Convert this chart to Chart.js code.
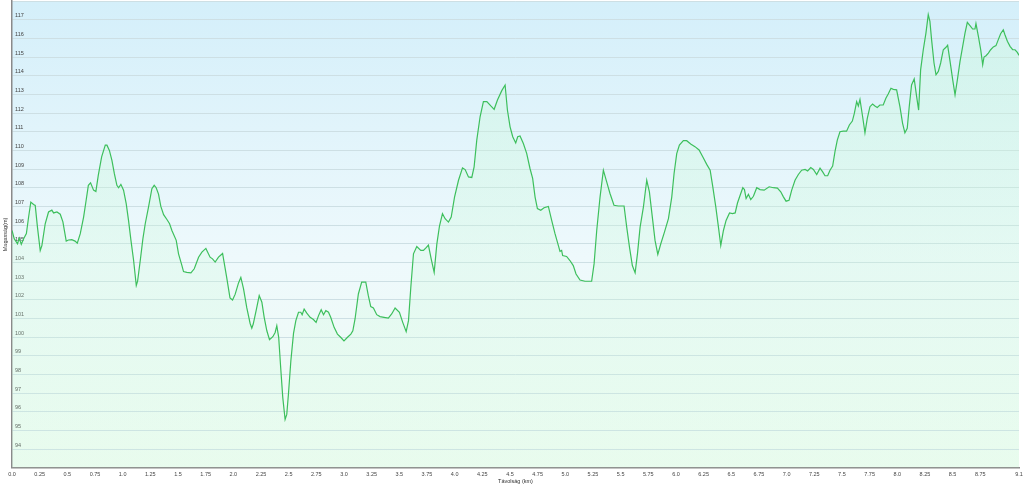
<!DOCTYPE html>
<html>
<head>
<meta charset="utf-8">
<script src="https://cdn.jsdelivr.net/npm/chart.js@4.4.1/dist/chart.umd.min.js"></script>
<style>
html,body{margin:0;padding:0;background:#ffffff;}
canvas{display:block;}
</style>
</head>
<body>
<canvas id="c" width="1023" height="486"></canvas>
<script>
const distKm = [0.00,0.02,0.05,0.065,0.084,0.105,0.13,0.15,0.17,0.195,0.21,0.23,0.255,0.27,0.30,0.33,0.36,0.376,0.406,0.436,0.46,0.49,0.51,0.54,0.57,0.59,0.617,0.647,0.67,0.69,0.71,0.737,0.758,0.78,0.81,0.843,0.858,0.88,0.903,0.925,0.948,0.963,0.984,1.008,1.032,1.053,1.075,1.099,1.123,1.135,1.159,1.183,1.204,1.234,1.264,1.285,1.303,1.324,1.345,1.37,1.40,1.424,1.445,1.484,1.505,1.535,1.55,1.58,1.617,1.647,1.686,1.716,1.752,1.79,1.812,1.836,1.866,1.903,1.94,1.97,1.993,2.017,2.047,2.068,2.092,2.122,2.152,2.167,2.18,2.207,2.234,2.258,2.279,2.303,2.327,2.357,2.378,2.393,2.41,2.428,2.447,2.468,2.483,2.498,2.52,2.544,2.565,2.589,2.61,2.622,2.64,2.664,2.694,2.724,2.748,2.77,2.794,2.815,2.836,2.86,2.88,2.911,2.941,2.97,3.0,3.032,3.062,3.08,3.1,3.13,3.16,3.197,3.22,3.242,3.266,3.296,3.326,3.362,3.401,3.431,3.462,3.501,3.531,3.562,3.583,3.604,3.628,3.658,3.694,3.718,3.745,3.763,3.788,3.815,3.839,3.863,3.89,3.914,3.944,3.969,3.999,4.035,4.071,4.095,4.125,4.155,4.176,4.2,4.23,4.26,4.291,4.327,4.357,4.387,4.426,4.456,4.477,4.501,4.525,4.552,4.57,4.591,4.621,4.651,4.681,4.705,4.727,4.748,4.778,4.808,4.847,4.877,4.907,4.937,4.952,4.967,4.976,5.012,5.042,5.072,5.097,5.133,5.178,5.238,5.26,5.284,5.314,5.344,5.374,5.404,5.44,5.479,5.531,5.555,5.58,5.606,5.631,5.652,5.676,5.706,5.736,5.76,5.79,5.811,5.836,5.863,5.896,5.932,5.962,5.983,6.007,6.031,6.067,6.097,6.133,6.172,6.209,6.242,6.278,6.309,6.333,6.36,6.384,6.405,6.429,6.453,6.484,6.511,6.535,6.556,6.58,6.604,6.619,6.634,6.655,6.676,6.7,6.73,6.76,6.797,6.842,6.881,6.917,6.947,6.971,6.995,7.022,7.046,7.076,7.106,7.136,7.167,7.19,7.218,7.242,7.272,7.302,7.326,7.347,7.371,7.392,7.416,7.437,7.458,7.482,7.512,7.542,7.567,7.594,7.612,7.633,7.648,7.663,7.687,7.708,7.729,7.753,7.777,7.798,7.819,7.843,7.873,7.897,7.918,7.943,7.964,7.994,8.024,8.048,8.069,8.09,8.108,8.129,8.153,8.175,8.193,8.211,8.235,8.259,8.28,8.295,8.31,8.332,8.35,8.371,8.392,8.416,8.44,8.455,8.477,8.501,8.522,8.543,8.567,8.591,8.612,8.633,8.657,8.681,8.702,8.711,8.733,8.754,8.772,8.784,8.802,8.823,8.844,8.868,8.892,8.913,8.934,8.958,8.973,8.995,9.019,9.043,9.064,9.085,9.1];
const elevM = [105.71,105.27,105.0,105.3,104.97,105.27,105.54,106.43,107.23,107.1,107.05,105.89,104.64,104.9,106.07,106.7,106.8,106.65,106.7,106.58,106.17,105.14,105.2,105.22,105.14,105.03,105.54,106.43,107.33,108.13,108.26,107.87,107.8,108.67,109.65,110.28,110.28,110.0,109.47,108.75,108.13,108.0,108.18,107.87,107.15,106.25,105.18,104.1,102.76,103.0,104.1,105.27,106.07,106.97,107.95,108.13,108.0,107.66,107.0,106.56,106.3,106.07,105.71,105.18,104.46,103.84,103.51,103.47,103.44,103.66,104.28,104.55,104.75,104.28,104.19,104.02,104.28,104.48,103.2,102.1,101.99,102.3,102.9,103.2,102.6,101.56,100.73,100.48,100.7,101.45,102.22,101.87,101.06,100.34,99.86,100.02,100.25,100.61,99.99,98.37,96.76,95.59,95.86,96.94,98.73,100.2,100.88,101.33,101.33,101.2,101.5,101.28,101.06,100.94,100.79,101.15,101.47,101.2,101.42,101.33,101.06,100.52,100.16,99.99,99.8,99.99,100.16,100.34,100.97,102.31,102.94,102.94,102.22,101.63,101.56,101.2,101.1,101.06,101.02,101.24,101.56,101.33,100.79,100.29,100.88,102.67,104.46,104.85,104.64,104.64,104.8,104.93,104.19,103.47,104.98,105.95,106.61,106.34,106.16,106.43,107.5,108.4,109.06,108.97,108.58,108.55,109.12,110.55,111.8,112.61,112.61,112.38,112.2,112.7,113.2,113.5,112.16,111.26,110.73,110.4,110.73,110.77,110.37,109.84,109.03,108.5,107.5,106.88,106.79,106.93,107.0,106.25,105.54,104.91,104.59,104.64,104.37,104.32,104.1,103.83,103.38,103.06,102.99,102.99,103.92,105.71,107.5,108.94,108.31,107.69,107.06,107.02,107.02,105.89,104.82,103.83,103.44,104.46,105.89,106.97,108.4,107.78,106.25,105.18,104.43,105.0,105.62,106.34,107.5,108.76,109.83,110.28,110.52,110.52,110.34,110.2,110.02,109.66,109.25,108.94,108.05,106.97,105.89,104.91,105.71,106.25,106.65,106.61,106.65,107.18,107.6,108.0,107.9,107.42,107.65,107.36,107.54,108.0,107.9,107.87,108.05,108.0,107.98,107.78,107.51,107.28,107.33,107.87,108.4,108.71,108.94,108.98,108.9,109.08,108.98,108.71,109.05,108.85,108.64,108.64,108.94,109.16,109.93,110.55,111.0,111.03,111.03,111.36,111.57,111.98,112.61,112.38,112.73,111.8,110.94,111.71,112.34,112.48,112.38,112.3,112.43,112.43,112.79,113.02,113.33,113.27,113.24,112.34,111.45,110.94,111.18,112.34,113.5,113.83,112.88,112.16,114.31,115.39,116.28,117.27,116.91,115.93,114.68,114.05,114.23,114.68,115.39,115.52,115.63,114.77,113.78,112.97,113.78,114.77,115.57,116.28,116.86,116.68,116.5,116.5,116.79,116.1,115.39,114.59,115.0,115.07,115.21,115.39,115.54,115.61,115.93,116.25,116.46,116.19,115.84,115.57,115.39,115.39,115.25,115.09];

const xMin = 0, xMax = 9.1, xStep = 0.25;
const yMin = 93, yMax = 118, yStep = 1;
const yLabelMin = 94, yLabelMax = 117;
const xTitle = 'Távolság (km)';
const yTitle = 'Magasság(m)';

const points = distKm.map((d, i) => ({x: d, y: elevM[i]}));

const bgPlugin = {
  id: 'areaBg',
  beforeDraw(chart) {
    const {ctx, chartArea: a} = chart;
    if (!a) return;
    const g = ctx.createLinearGradient(0, a.top, 0, a.bottom);
    g.addColorStop(0, '#d4effa');
    g.addColorStop(0.55, '#eef9fc');
    g.addColorStop(1, '#effcf2');
    ctx.save();
    ctx.fillStyle = g;
    ctx.fillRect(a.left, a.top, a.right - a.left, a.bottom - a.top);
    ctx.restore();
  }
};

const font = {family: '"Liberation Sans", Arial, sans-serif', size: 5.5};

new Chart(document.getElementById('c'), {
  type: 'line',
  data: {
    datasets: [{
      data: points,
      borderColor: '#3dbf5c',
      borderWidth: 1.2,
      pointRadius: 0,
      tension: 0,
      fill: 'start',
      backgroundColor(ctx) {
        const a = ctx.chart.chartArea;
        if (!a) return 'rgba(200,250,215,0.3)';
        const g = ctx.chart.ctx.createLinearGradient(0, a.top, 0, a.bottom);
        g.addColorStop(0, 'rgba(200,250,212,0.35)');
        g.addColorStop(1, 'rgba(205,250,220,0.2)');
        return g;
      }
    }]
  },
  options: {
    responsive: false,
    animation: false,
    layout: {padding: {left: 0, right: 4, top: 1, bottom: 0}},
    plugins: {legend: {display: false}, tooltip: {enabled: false}},
    scales: {
      x: {
        type: 'linear',
        min: xMin, max: xMax,
        afterFit(s) { s.paddingLeft = 0; s.paddingRight = 0; },
        border: {display: true, color: '#8a8a8a', width: 1.5},
        grid: {display: false, drawTicks: true, tickLength: 3, tickColor: '#8a8a8a'},
        ticks: {
          stepSize: xStep, autoSkip: false, maxRotation: 0, minRotation: 0,
          font: font, color: '#444', padding: 0,
          callback(v) {
            return Number.isInteger(v) ? v.toFixed(1) : String(Math.round(v * 100) / 100);
          }
        },
        title: {display: true, text: xTitle, font: font, color: '#333', padding: {top: 1, bottom: 1}}
      },
      y: {
        min: yMin, max: yMax,
        afterFit(s) { s.paddingTop = 0; s.paddingBottom = 0; s.width = 12; },
        border: {display: true, color: '#8a8a8a', width: 1.5},
        grid: {color: '#cddfe4', lineWidth: 1, drawTicks: false},
        ticks: {
          stepSize: yStep, mirror: true, padding: 3, labelOffset: -4,
          font: font, color: '#444',
          callback(v) { return (v >= yLabelMin && v <= yLabelMax) ? String(v) : ''; }
        },
        title: {display: true, text: yTitle, font: font, color: '#333', padding: {top: 2, bottom: 3}}
      }
    }
  },
  plugins: [bgPlugin]
});
</script>
</body>
</html>
